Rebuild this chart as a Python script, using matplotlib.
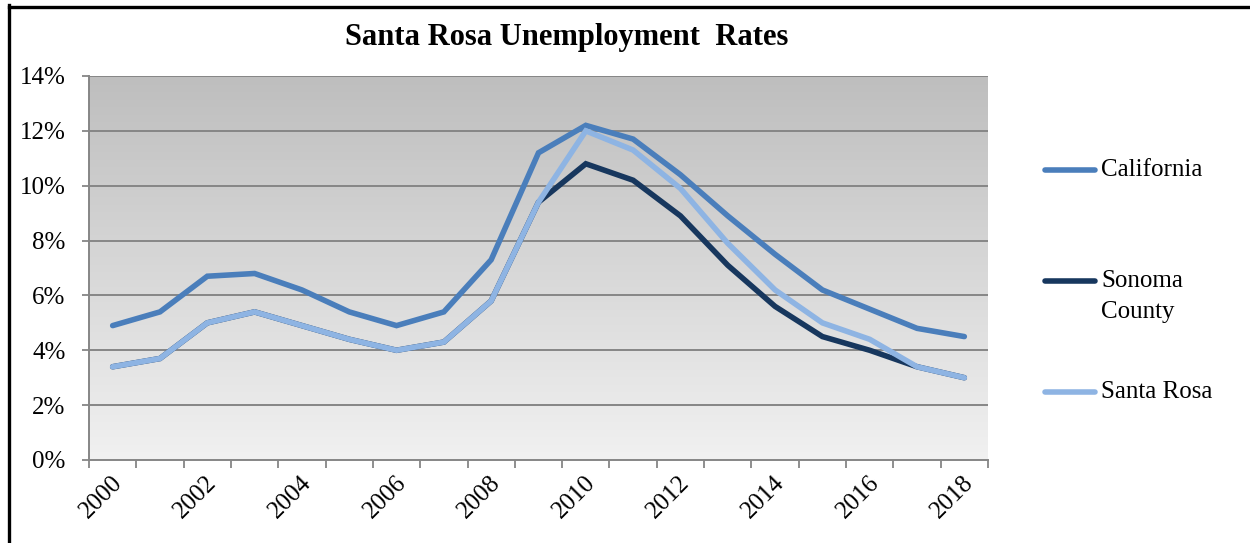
import numpy as np
import matplotlib
matplotlib.use("Agg")
import matplotlib.pyplot as plt
from matplotlib.lines import Line2D
from matplotlib.transforms import ScaledTranslation

years = list(range(2000, 2019))
california = [4.9, 5.4, 6.7, 6.8, 6.2, 5.4, 4.9, 5.4, 7.3, 11.2, 12.2, 11.7, 10.4, 8.9, 7.5, 6.2, 5.5, 4.8, 4.5]
sonoma_county = [3.4, 3.7, 5.0, 5.4, 4.9, 4.4, 4.0, 4.3, 5.8, 9.4, 10.8, 10.2, 8.9, 7.1, 5.6, 4.5, 4.0, 3.4, 3.0]
santa_rosa = [3.4, 3.7, 5.0, 5.4, 4.9, 4.4, 4.0, 4.3, 5.8, 9.4, 12.0, 11.3, 9.9, 7.9, 6.2, 5.0, 4.4, 3.4, 3.0]
series_names = ["California", "Sonoma\nCounty", "Santa Rosa"]
series_colors = ["#4A7EBB", "#17375E", "#8EB4E3"]
y_ticks = [0, 2, 4, 6, 8, 10, 12, 14]
title = "Santa Rosa Unemployment  Rates"

plt.rcParams["font.family"] = ["Liberation Serif", "DejaVu Serif"]

W, H = 1250, 543
fig = plt.figure(figsize=(W / 100, H / 100), dpi=100)
fig.patch.set_facecolor("white")

def fx(px):
    return px / W

def fy(py):
    return 1 - py / H

# outer chart frame (left and top edges)
fig.add_artist(Line2D([fx(9), fx(9)], [0, fy(5)], transform=fig.transFigure,
                      color="black", lw=2.4, solid_capstyle="projecting"))
fig.add_artist(Line2D([fx(9), 1], [fy(6.5), fy(6.5)], transform=fig.transFigure,
                      color="black", lw=2.4, solid_capstyle="projecting"))

left, right, top, bottom = 89, 988, 76, 460
ax = fig.add_axes([fx(left), fy(bottom), (right - left) / W, (bottom - top) / H])

n = len(years)
x = np.arange(n)
ax.set_xlim(-0.5, n - 0.5)
ax.set_ylim(0, 14)

# vertical gradient background of the plot area
grad = np.linspace(0, 1, 256).reshape(-1, 1)
top_c = np.array([0.745, 0.745, 0.745])
bot_c = np.array([0.945, 0.945, 0.945])
img = top_c + (bot_c - top_c) * grad
img = np.repeat(img[:, np.newaxis, :], 2, axis=1)
ax.imshow(img, extent=[0, 1, 0, 1], transform=ax.transAxes, aspect="auto",
          origin="upper", zorder=0)

for yv in y_ticks[1:]:
    ax.axhline(yv, color="#868686", lw=1.4, zorder=1)

for vals, col in zip([california, sonoma_county, santa_rosa], series_colors):
    ax.plot(x, vals, color=col, lw=4.0, solid_joinstyle="miter",
            solid_capstyle="round", zorder=3)

for s in ["top", "right"]:
    ax.spines[s].set_visible(False)
for s in ["left", "bottom"]:
    ax.spines[s].set_color("#868686")
    ax.spines[s].set_linewidth(1.4)

ax.set_yticks(y_ticks)
ax.set_yticklabels([f"{v}%" for v in y_ticks], fontsize=18)
ax.tick_params(axis="y", length=5, width=1.3, color="#868686", pad=12)

ax.set_xticks(np.arange(-0.5, n, 1.0), minor=True)
ax.set_xticks(x[::2])
ax.set_xticklabels([str(y) for y in years[::2]], fontsize=18, rotation=45,
                   ha="right", va="center", rotation_mode="anchor")
ax.tick_params(axis="x", which="major", length=0, pad=14)
ax.tick_params(axis="x", which="minor", length=6, width=1.3, color="#868686")
for lbl in ax.get_xticklabels():
    lbl.set_transform(lbl.get_transform() + ScaledTranslation(6 / 100, 0, fig.dpi_scale_trans))

fig.text(fx(567), fy(38), title, ha="center", va="center",
         fontsize=22, fontweight="bold")

# legend entries placed to the right of the plot area
legend_y = [170, 281, 392]
line_gap = 31
for name, col, ly in zip(series_names, series_colors, legend_y):
    fig.add_artist(Line2D([fx(1045), fx(1095)], [fy(ly), fy(ly)], transform=fig.transFigure,
                          color=col, lw=4.0, solid_capstyle="round"))
    for i, part in enumerate(name.split("\n")):
        fig.text(fx(1101), fy(ly + i * line_gap), part, ha="left", va="center",
                 fontsize=18)

fig.savefig("out.png", dpi=100, facecolor="white")
